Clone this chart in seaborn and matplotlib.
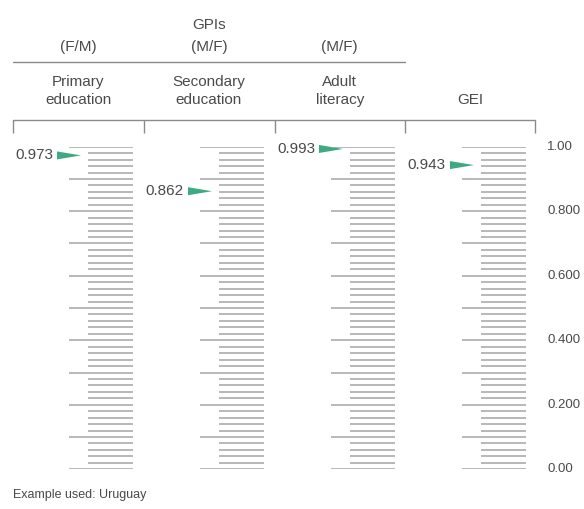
import numpy as np
import pandas as pd
import matplotlib
matplotlib.use('Agg')
import matplotlib.pyplot as plt
import matplotlib.font_manager as fm
from matplotlib.path import Path
import seaborn as sns

# 数据
indicators = ['Primary\neducation', 'Secondary\neducation', 'Adult\nliteracy', 'GEI']
ratios = ['(F/M)', '(M/F)', '(M/F)']
values = [0.973, 0.862, 0.993, 0.943]
value_labels = ['0.973', '0.862', '0.993', '0.943']
scale_ticks = [0.0, 0.2, 0.4, 0.6, 0.8, 1.0]
scale_labels = ['0.00', '0.200', '0.400', '0.600', '0.800', '1.00']

W, H = 584, 509
TEXT = '#4a4a4a'
TICK = '#a4a4a4'
GREEN = '#3daa82'

sns.set_theme(style='white')
names = {f.name for f in fm.fontManager.ttflist}
fam = 'Liberation Sans Narrow' if 'Liberation Sans Narrow' in names else 'Liberation Sans'
plt.rcParams['font.family'] = [fam, 'DejaVu Sans']

fig = plt.figure(figsize=(W / 100, H / 100), dpi=100)
fig.patch.set_facecolor('white')

# 头部（像素坐标）
hdr = fig.add_axes([0, 0, 1, 1])
hdr.set_xlim(0, W)
hdr.set_ylim(H, 0)
hdr.axis('off')

cells = [13, 143.5, 274.5, 405, 535]
centers = [(cells[i] + cells[i + 1]) / 2 for i in range(4)]

hdr.text(centers[1], 25, 'GPIs', ha='center', va='center', fontsize=11, color=TEXT)
for cx, r in zip(centers[:3], ratios):
    hdr.text(cx, 47, r, ha='center', va='center', fontsize=11, color=TEXT)
hdr.plot([cells[0], cells[3]], [62, 62], color='#8a8a8a', lw=1.0)
for cx, lab in zip(centers, indicators):
    if '\n' in lab:
        hdr.text(cx, 91, lab, ha='center', va='center', fontsize=11, color=TEXT, linespacing=1.4)
    else:
        hdr.text(cx, 100, lab, ha='center', va='center', fontsize=11, color=TEXT)
hdr.plot([cells[0], cells[-1]], [119.5, 119.5], color='#8a8a8a', lw=1.0)
hdr.vlines(cells, 119.5, 133, color='#8a8a8a', lw=1.0)
hdr.text(13, 495, 'Example used: Uruguay', ha='left', va='center', fontsize=9, color=TEXT)

# 刻度尺
y_top, y_bot = 146.7, 469.3
ax = fig.add_axes([0, (H - y_bot) / H, 1, (y_bot - y_top) / H])

col_x = [69, 200, 331, 462]
grid = np.round(np.arange(0, 1.0001, 0.02), 2)
major = grid[np.isclose((grid * 10) % 1, 0) | np.isclose((grid * 10) % 1, 1)]
minor = np.setdiff1d(grid, major)
for x0 in col_x:
    ax.hlines(major, x0, x0 + 64, color=TICK, lw=1.1)
    ax.hlines(minor, x0 + 19, x0 + 64, color=TICK, lw=1.1)

tri = Path([(-12, -4), (12, 0), (-12, 4), (-12, -4)],
           [Path.MOVETO, Path.LINETO, Path.LINETO, Path.CLOSEPOLY])
df = pd.DataFrame({'x': col_x, 'v': values, 'lab': value_labels})
sns.scatterplot(data=df, x='x', y='v', marker=tri, s=300, color=GREEN,
                edgecolor='none', ax=ax, clip_on=False, legend=False)
ax.set_xlim(0, W)
ax.set_ylim(0, 1)
ax.axis('off')
for _, r in df.iterrows():
    ax.text(r['x'] - 16, r['v'], r['lab'], ha='right', va='center',
            fontsize=11, color=TEXT)

for t, lab in zip(scale_ticks, scale_labels):
    ax.text(547, t, lab, ha='left', va='center', fontsize=9.5, color=TEXT)

fig.savefig('out.png', dpi=100, facecolor='white')
